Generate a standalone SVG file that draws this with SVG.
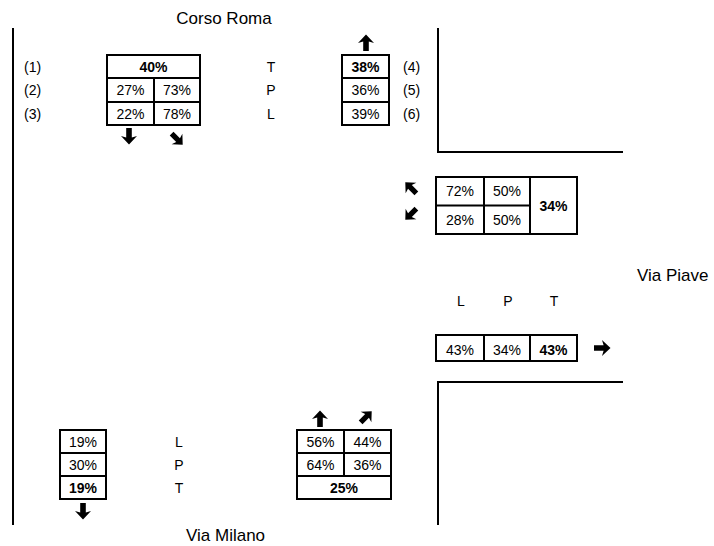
<svg xmlns="http://www.w3.org/2000/svg" xmlns:xlink="http://www.w3.org/1999/xlink" width="714" height="546" viewBox="0 0 714 546">
<style>
text{font-family:"Liberation Sans",Arial,sans-serif;fill:#000}
.st{font-size:17px}
.lb{font-size:14px}
.c{font-size:14px;text-anchor:middle}
.b{font-weight:bold}
.box{fill:#fff;stroke:#000;stroke-width:2}
.ln{stroke:#000;stroke-width:2;fill:none}
.rd{stroke:#000;stroke-width:2;fill:none}
.ar{fill:#000}
</style>
<defs>
<path id="arr" d="M0,-8.5 L8,0 L2.8,-1.6 L2.8,8 L-2.8,8 L-2.8,-1.6 L-8,0 Z"/>
</defs>
<rect width="714" height="546" fill="#fff"/>
<g id="streets">
<line class="rd" x1="13" y1="28" x2="13" y2="525"/>
<polyline class="rd" points="438,28 438,152 623,152"/>
<polyline class="rd" points="623,382 438,382 438,525"/>
<text class="st" x="224" y="24" text-anchor="middle">Corso Roma</text>
<text class="st" x="637" y="281">Via Piave</text>
<text class="st" x="186" y="541">Via Milano</text>
</g>
<g id="node-north-left">
<rect class="box" x="107" y="55" width="93" height="70"/>
<line class="ln" x1="107" y1="78" x2="200" y2="78"/>
<line class="ln" x1="107" y1="102" x2="200" y2="102"/>
<line class="ln" x1="154" y1="78" x2="154" y2="125"/>
<text class="c b" x="153.5" y="71.5">40%</text>
<text class="c" x="130.5" y="95">27%</text>
<text class="c" x="177" y="95">73%</text>
<text class="c" x="130.5" y="118.5">22%</text>
<text class="c" x="177" y="118.5">78%</text>
<text class="lb" x="24" y="71.5">(1)</text>
<text class="lb" x="24" y="95">(2)</text>
<text class="lb" x="24" y="118.5">(3)</text>
</g>
<g id="node-north-labels">
<text class="c" x="271" y="71.5">T</text>
<text class="c" x="271" y="95">P</text>
<text class="c" x="271" y="118.5">L</text>
</g>
<g id="node-north-right">
<rect class="box" x="342" y="55" width="47" height="70"/>
<line class="ln" x1="342" y1="78" x2="389" y2="78"/>
<line class="ln" x1="342" y1="102" x2="389" y2="102"/>
<text class="c b" x="365.5" y="71.5">38%</text>
<text class="c" x="365.5" y="95">36%</text>
<text class="c" x="365.5" y="118.5">39%</text>
<text class="lb" x="403" y="71.5">(4)</text>
<text class="lb" x="403" y="95">(5)</text>
<text class="lb" x="403" y="118.5">(6)</text>
</g>
<g id="node-east-in">
<rect class="box" x="436" y="177" width="141" height="57"/>
<line class="ln" x1="484" y1="177" x2="484" y2="234"/>
<line class="ln" x1="530" y1="177" x2="530" y2="234"/>
<line class="ln" x1="436" y1="205.5" x2="530" y2="205.5"/>
<text class="c" x="460" y="196">72%</text>
<text class="c" x="507" y="196">50%</text>
<text class="c" x="460" y="224.5">28%</text>
<text class="c" x="507" y="224.5">50%</text>
<text class="c b" x="553.5" y="210.5">34%</text>
</g>
<g id="node-east-out">
<text class="c" x="461" y="306">L</text>
<text class="c" x="508" y="306">P</text>
<text class="c" x="554" y="306">T</text>
<rect class="box" x="436" y="335" width="141" height="26"/>
<line class="ln" x1="484" y1="335" x2="484" y2="361"/>
<line class="ln" x1="530" y1="335" x2="530" y2="361"/>
<text class="c" x="460" y="354.5">43%</text>
<text class="c" x="507" y="354.5">34%</text>
<text class="c b" x="553.5" y="354.5">43%</text>
</g>
<g id="node-south-right">
<rect class="box" x="297" y="430" width="94" height="69"/>
<line class="ln" x1="297" y1="453" x2="391" y2="453"/>
<line class="ln" x1="297" y1="476" x2="391" y2="476"/>
<line class="ln" x1="344" y1="430" x2="344" y2="476"/>
<text class="c" x="320.5" y="446.5">56%</text>
<text class="c" x="367.5" y="446.5">44%</text>
<text class="c" x="320.5" y="469.5">64%</text>
<text class="c" x="367.5" y="469.5">36%</text>
<text class="c b" x="344" y="492.5">25%</text>
</g>
<g id="node-south-left">
<rect class="box" x="60" y="430" width="46" height="69"/>
<line class="ln" x1="60" y1="453" x2="106" y2="453"/>
<line class="ln" x1="60" y1="476" x2="106" y2="476"/>
<text class="c" x="83" y="446.5">19%</text>
<text class="c" x="83" y="469.5">30%</text>
<text class="c b" x="83" y="492.5">19%</text>
<text class="c" x="179" y="446.5">L</text>
<text class="c" x="179" y="469.5">P</text>
<text class="c" x="179" y="492.5">T</text>
</g>
<g id="arrows" class="ar">
<use xlink:href="#arr" transform="translate(129,136) rotate(180)"/>
<use xlink:href="#arr" transform="translate(177,139) rotate(135) scale(0.95)"/>
<use xlink:href="#arr" transform="translate(366,43)"/>
<use xlink:href="#arr" transform="translate(411,188) rotate(315) scale(0.95)"/>
<use xlink:href="#arr" transform="translate(411,214) rotate(225) scale(0.95)"/>
<use xlink:href="#arr" transform="translate(602,348) rotate(90)"/>
<use xlink:href="#arr" transform="translate(320,419)"/>
<use xlink:href="#arr" transform="translate(366,417) rotate(45) scale(0.95)"/>
<use xlink:href="#arr" transform="translate(83,511) rotate(180)"/>
</g>
</svg>
